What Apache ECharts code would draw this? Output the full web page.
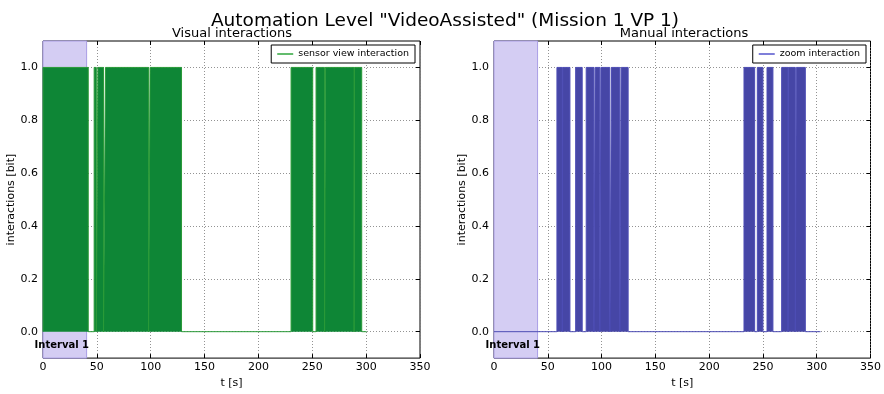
<!DOCTYPE html>
<html>
<head>
<meta charset="utf-8">
<script src="https://cdn.jsdelivr.net/npm/echarts@6/dist/echarts.min.js"></script>
<style>
  html, body { margin: 0; padding: 0; background: #fff; }
  #chart { width: 884px; height: 394px; }
</style>
</head>
<body>
<div id="chart"></div>
<script>
// Axis ticks
const xTicks = [0, 50, 100, 150, 200, 250, 300, 350];
const yTicks = [0, 0.2, 0.4, 0.6, 0.8, 1.0];

// Highlighted interval [s]
const intervalLabel = 'Interval 1';
const intervalStart = 0;
const intervalEnd = 40.5;

// Sensor view interaction: switch-on / switch-off times [s]
const sensorViewOn  = [0,    47.5, 51.0, 58.0, 99.4,  230.3, 253.5, 262.2, 289.2];
const sensorViewOff = [42.0, 49.5, 56.2, 98.0, 128.6, 250.4, 261.4, 288.8, 295.9];
const sensorViewEnd = 300.5;

// Zoom interaction: switch-on / switch-off times [s]
const zoomOn  = [58.5, 63.9, 75.9, 85.7, 94.0, 99.4,  109.3, 118.2, 232.4, 244.8, 253.8, 267.4, 273.9, 281.0];
const zoomOff = [63.5, 70.6, 82.0, 92.9, 98.4, 107.7, 117.0, 124.7, 242.3, 250.0, 259.3, 273.3, 280.1, 289.4];
const zoomEnd = 303.5;

// Binary signal as a step outline: 0 -> 1 at each switch-on, 1 -> 0 at each switch-off
function stepPoints(on, off, end) {
  const pts = [[0, 0]];
  for (let i = 0; i < on.length; i++) {
    pts.push([on[i], 0], [on[i], 1], [off[i], 1], [off[i], 0]);
  }
  pts.push([end, 0]);
  return pts;
}

const FONT = 'DejaVu Sans';
const gridColor = '#777';

function xAxes(gridIndex) {
  const xMin = xTicks[0], xMax = xTicks[xTicks.length - 1], xStep = xTicks[1] - xTicks[0];
  return [
    {
      type: 'value', gridIndex, min: xMin, max: xMax, interval: xStep,
      name: 't [s]', nameLocation: 'middle', nameGap: 17,
      nameTextStyle: { fontFamily: FONT, fontSize: 11, color: '#000' },
      axisLine: { show: false, onZero: false },
      axisTick: { inside: true, length: 4, lineStyle: { color: '#000' } },
      axisLabel: { fontFamily: FONT, fontSize: 11, color: '#000', margin: 4 },
      splitLine: { show: true, lineStyle: { color: gridColor, width: 0.8, type: [1, 2] } }
    },
    {
      type: 'value', gridIndex, min: xMin, max: xMax, interval: xStep, position: 'top',
      axisLine: { show: false, onZero: false },
      axisTick: { inside: true, length: 4, lineStyle: { color: '#000' } },
      axisLabel: { show: false },
      splitLine: { show: false }
    }
  ];
}

function yAxes(gridIndex) {
  return [
    {
      type: 'value', gridIndex, min: -0.1, max: 1.1,
      name: 'interactions [bit]', nameLocation: 'middle', nameGap: 26,
      nameTextStyle: { fontFamily: FONT, fontSize: 11, color: '#000' },
      axisLine: { show: false, onZero: false },
      axisTick: { inside: true, length: 4, customValues: yTicks, lineStyle: { color: '#000' } },
      axisLabel: { fontFamily: FONT, fontSize: 11, color: '#000', margin: 5,
                   customValues: yTicks, formatter: v => v.toFixed(1) },
      splitLine: { show: true, lineStyle: { color: gridColor, width: 0.8, type: [1, 2] } }
    },
    {
      type: 'value', gridIndex, min: -0.1, max: 1.1, position: 'right',
      axisLine: { show: false, onZero: false },
      axisTick: { inside: true, length: 4, customValues: yTicks, lineStyle: { color: '#000' } },
      axisLabel: { show: false, customValues: yTicks },
      splitLine: { show: false }
    }
  ];
}

function intervalSeries(xi, yi) {
  return {
    type: 'line', xAxisIndex: xi, yAxisIndex: yi, data: [], z: 1, silent: true,
    markArea: {
      silent: true,
      itemStyle: { color: '#d4cdf3', borderColor: '#a99de6', borderWidth: 1 },
      label: {
        show: true, position: 'insideBottom', distance: 8, offset: [-3, 0],
        fontFamily: FONT, fontSize: 10, fontWeight: 'bold', color: '#000'
      },
      data: [[{ name: intervalLabel, xAxis: intervalStart }, { xAxis: intervalEnd }]]
    }
  };
}

function signalSeries(name, xi, yi, data, lineColor, fillColor) {
  return {
    name, type: 'line', xAxisIndex: xi, yAxisIndex: yi, data, z: 3,
    showSymbol: false, symbol: 'none', animation: false,
    lineStyle: { color: lineColor, width: 1 },
    itemStyle: { color: lineColor },
    areaStyle: { color: fillColor, opacity: 1, origin: 0 }
  };
}

const chart = echarts.init(document.getElementById('chart'), null, { renderer: 'canvas' });

chart.setOption({
  animation: false,
  backgroundColor: '#fff',
  title: [
    { text: 'Automation Level "VideoAssisted" (Mission 1 VP 1)', left: 440, top: 7, textAlign: 'center',
      textStyle: { fontFamily: FONT, fontSize: 18.5, fontWeight: 'normal', color: '#000' } },
    { text: 'Visual interactions', left: 227, top: 22, textAlign: 'center',
      textStyle: { fontFamily: FONT, fontSize: 13, fontWeight: 'normal', color: '#000' } },
    { text: 'Manual interactions', left: 679, top: 22, textAlign: 'center',
      textStyle: { fontFamily: FONT, fontSize: 13, fontWeight: 'normal', color: '#000' } }
  ],
  legend: [
    { data: [{ name: 'sensor view interaction', icon: 'rect', itemStyle: { color: '#2fa63c' } }],
      right: 469, top: 45, itemWidth: 16, itemHeight: 1.5,
      backgroundColor: '#fff', borderColor: '#000', borderWidth: 1, borderRadius: 0, padding: [4, 6],
      textStyle: { fontFamily: FONT, fontSize: 9.5, color: '#000' } },
    { data: [{ name: 'zoom interaction', icon: 'rect', itemStyle: { color: '#5555cc' } }],
      right: 18, top: 45, itemWidth: 16, itemHeight: 1.5,
      backgroundColor: '#fff', borderColor: '#000', borderWidth: 1, borderRadius: 0, padding: [4, 6],
      textStyle: { fontFamily: FONT, fontSize: 9.5, color: '#000' } }
  ],
  grid: [
    { left: 43, top: 41, width: 377, height: 322, show: true, borderColor: '#000', borderWidth: 1, backgroundColor: '#fff' },
    { left: 494, top: 41, width: 377, height: 322, show: true, borderColor: '#000', borderWidth: 1, backgroundColor: '#fff' }
  ],
  xAxis: [...xAxes(0), ...xAxes(1)],
  yAxis: [...yAxes(0), ...yAxes(1)],
  series: [
    intervalSeries(0, 0),
    signalSeries('sensor view interaction', 0, 0, stepPoints(sensorViewOn, sensorViewOff, sensorViewEnd), '#2a9a38', '#0e8636'),
    intervalSeries(2, 2),
    signalSeries('zoom interaction', 2, 2, stepPoints(zoomOn, zoomOff, zoomEnd), '#4d4db5', '#4646a6')
  ]
});
</script>
</body>
</html>
